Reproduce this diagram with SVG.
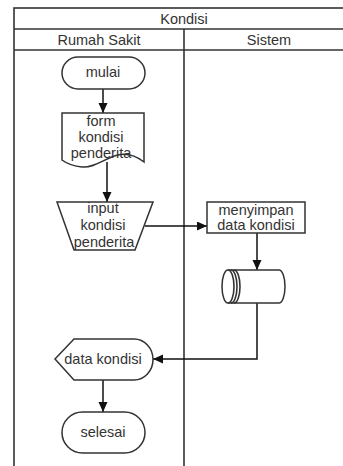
<svg xmlns="http://www.w3.org/2000/svg" width="343" height="466" viewBox="0 0 343 466">
<defs>
<style>
.ln{fill:none;stroke:#333;stroke-width:1.6}
.sh{fill:#fff;stroke:#333;stroke-width:1.5}
.t{font-family:"Liberation Sans",Arial,sans-serif;font-size:14.5px;fill:#333;text-anchor:middle}
.cn{fill:none;stroke:#111;stroke-width:1.5}
</style>
<marker id="ah" markerUnits="userSpaceOnUse" markerWidth="11" markerHeight="10" refX="10" refY="4.5" orient="auto">
<path d="M0,0 L10,4.5 L0,9 Z" fill="#111"/>
</marker>
</defs>
<rect width="343" height="466" fill="#fff"/>
<g id="pool">
<rect class="ln" x="14" y="8" width="340" height="470"/>
<line class="ln" x1="14" y1="29" x2="354" y2="29"/>
<line class="ln" x1="14" y1="50" x2="354" y2="50"/>
<line class="ln" x1="184" y1="29" x2="184" y2="478"/>
<text class="t" x="184" y="24">Kondisi</text>
<text class="t" x="99" y="45">Rumah Sakit</text>
<text class="t" x="269" y="45">Sistem</text>
</g>
<g id="connectors">
<path class="cn" d="M103,89 V113" marker-end="url(#ah)"/>
<path class="cn" d="M107,162 V202" marker-end="url(#ah)"/>
<path class="cn" d="M145,226 H207" marker-end="url(#ah)"/>
<path class="cn" d="M257,233 V270" marker-end="url(#ah)"/>
<path class="cn" d="M257,303 V359 H153" marker-end="url(#ah)"/>
<path class="cn" d="M103,380 V412" marker-end="url(#ah)"/>
</g>
<g id="mulai">
<rect class="sh" x="62" y="57" width="83" height="32" rx="16"/>
<text class="t" x="103" y="77">mulai</text>
</g>
<g id="form">
<path class="sh" d="M62,113 H144 V162 C136,156 127,153 118,155 C105,158 95,168 82,167 C72,166 66,163 62,160 Z"/>
<text class="t" x="101" y="126">form</text>
<text class="t" x="101" y="142">kondisi</text>
<text class="t" x="101" y="158">penderita</text>
</g>
<g id="input">
<path class="sh" d="M57,202 H153 L135,250 H74 Z"/>
<text class="t" x="103" y="213">input</text>
<text class="t" x="103" y="230">kondisi</text>
<text class="t" x="104" y="247">penderita</text>
</g>
<g id="menyimpan">
<rect class="sh" x="207" y="202" width="98" height="31"/>
<text class="t" x="256" y="215">menyimpan</text>
<text class="t" x="256" y="230">data kondisi</text>
</g>
<g id="storage">
<path class="sh" d="M228,270 H279 A6,16.5 0 0 1 279,303 H228 A6,16.5 0 0 1 228,270 Z"/>
<path class="ln" d="M228,270 A6,16.5 0 0 1 228,303"/>
<path class="ln" d="M231,270 A6,16.5 0 0 1 231,303" stroke-width="1"/>
<path class="ln" d="M234,270 A6,16.5 0 0 1 234,303" stroke-width="1"/>
</g>
<g id="display">
<path class="sh" d="M55,359 L74,339 H134 A19,20.5 0 0 1 134,380 H74 Z"/>
<text class="t" x="103" y="364">data kondisi</text>
</g>
<g id="selesai">
<rect class="sh" x="62" y="412" width="83" height="41" rx="20.5"/>
<text class="t" x="103" y="437">selesai</text>
</g>
</svg>
